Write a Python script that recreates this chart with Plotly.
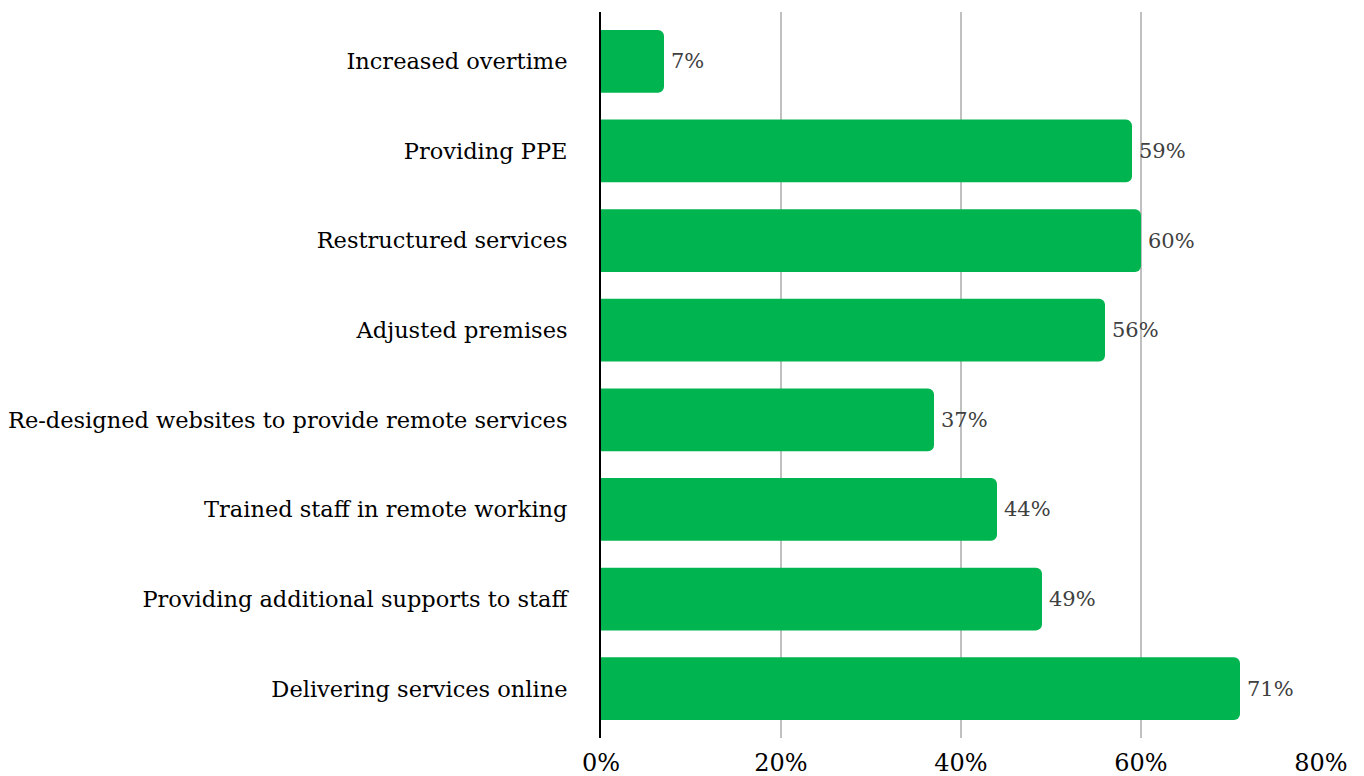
import plotly.graph_objects as go

# Share of organisations reporting each response
categories = [
    "Delivering services online",
    "Providing additional supports to staff",
    "Trained staff in remote working",
    "Re-designed websites to provide remote services",
    "Adjusted premises",
    "Restructured services",
    "Providing PPE",
    "Increased overtime",
]
values = [71, 49, 44, 37, 56, 60, 59, 7]
x_ticks = [0, 20, 40, 60, 80]
x_tick_labels = ["0%", "20%", "40%", "60%", "80%"]

FONT = "DejaVu Serif"

fig = go.Figure(
    go.Bar(
        y=categories,
        x=values,
        orientation="h",
        marker=dict(color="#00b550", line=dict(width=0)),
        width=0.7,
        cliponaxis=False,
        hoverinfo="skip",
    )
)

# value labels just past the end of each bar
for cat, v in zip(categories, values):
    fig.add_annotation(
        x=v, y=cat, text=f"{v}%", showarrow=False,
        xanchor="left", xshift=5,
        font=dict(family=FONT, size=21, color="#404040"),
    )

fig.update_layout(
    width=1364,
    height=776,
    margin=dict(l=601, r=43, t=12, b=38),
    plot_bgcolor="white",
    paper_bgcolor="white",
    barcornerradius=6,
    showlegend=False,
    font=dict(family=FONT, color="black"),
)

fig.update_xaxes(
    range=[0, 80],
    tickvals=x_ticks,
    ticktext=x_tick_labels,
    tickfont=dict(family=FONT, size=24, color="black"),
    showgrid=True,
    gridcolor="#c0c0c0",
    gridwidth=2,
    zeroline=False,
    showline=False,
    ticklabelstandoff=8,
    automargin=False,
)

fig.update_yaxes(
    categoryorder="array",
    categoryarray=categories,
    range=[-0.551, 7.551],
    tickfont=dict(family=FONT, size=22.5, color="black"),
    showgrid=False,
    zeroline=False,
    showline=True,
    linecolor="black",
    linewidth=2,
    ticks="",
    ticklabelstandoff=27,
    automargin=False,
)

fig.write_html("out.html")
